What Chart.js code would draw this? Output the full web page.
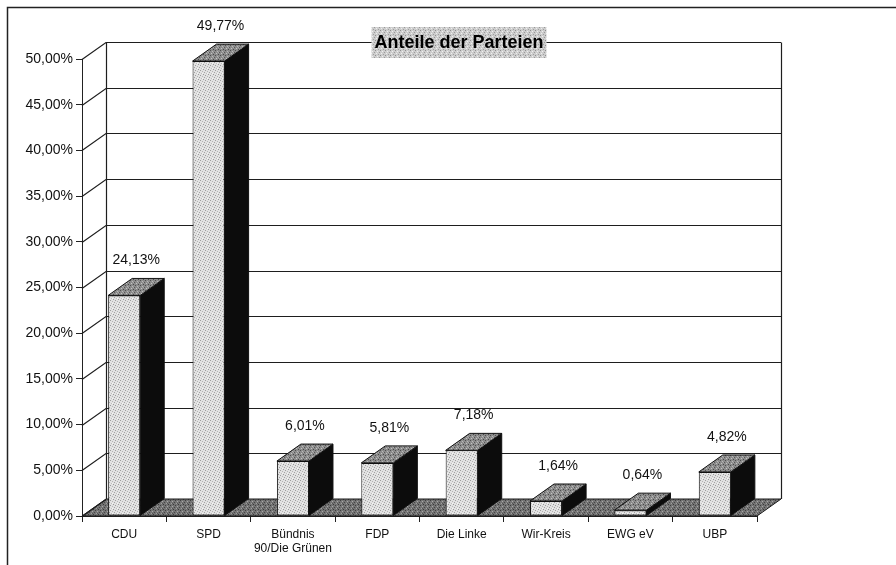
<!DOCTYPE html>
<html><head><meta charset="utf-8">
<script src="https://cdn.jsdelivr.net/npm/chart.js@4"></script>
<style>html,body{margin:0;padding:0;background:#fff}#wrap{width:896px;height:565px;position:relative}</style>
</head><body><div id="wrap"><canvas id="c" width="896" height="565"></canvas></div>
<script>
const categories = [["CDU"],["SPD"],["Bündnis","90/Die Grünen"],["FDP"],["Die Linke"],["Wir-Kreis"],["EWG eV"],["UBP"]];
const shares = [24.13, 49.77, 6.01, 5.81, 7.18, 1.64, 0.64, 4.82];
const yMin = 0, yMax = 50, yStep = 5;
const chartTitle = "Anteile der Parteien";

const DX = 24, DY = -17;
const FONT = "'Liberation Sans', Arial, sans-serif";
const fmt = v => v.toFixed(2).replace('.', ',') + '%';

function makePattern(base, specks) {
  const c = document.createElement('canvas');
  c.width = 5; c.height = 5;
  const g = c.getContext('2d');
  g.fillStyle = base; g.fillRect(0, 0, 5, 5);
  specks.forEach(([x, y, col]) => { g.fillStyle = col; g.fillRect(x, y, 1, 1); });
  return g.createPattern(c, 'repeat');
}
const frontPat = makePattern('#e2e2e2', [[0,0,'#9c9c9c'],[2,1,'#b5b5b5'],[4,2,'#a0a0a0'],[1,3,'#bdbdbd'],[3,4,'#999'],[2,3,'#f5f5f5']]);
const topPat = makePattern('#8c8c8c', [[0,0,'#4e4e4e'],[2,1,'#b9b9b9'],[4,2,'#555'],[1,3,'#c2c2c2'],[3,4,'#4a4a4a'],[3,2,'#aaa']]);
const floorPat = makePattern('#747474', [[0,0,'#3e3e3e'],[2,1,'#a8a8a8'],[4,2,'#444'],[1,3,'#9f9f9f'],[3,4,'#3a3a3a'],[2,3,'#555']]);
const titlePat = makePattern('#cdcdcd', [[0,0,'#8e8e8e'],[2,1,'#f0f0f0'],[4,2,'#999'],[1,3,'#eee'],[3,4,'#a0a0a0']]);

const deco = {
  id: 'deco',
  beforeDraw(chart) {
    const ctx = chart.ctx;
    ctx.save();
    ctx.fillStyle = '#fff';
    ctx.fillRect(0, 0, chart.width, chart.height);
    ctx.strokeStyle = '#222'; ctx.lineWidth = 1.5;
    ctx.beginPath();
    ctx.moveTo(7.5, chart.height); ctx.lineTo(7.5, 7.5); ctx.lineTo(chart.width, 7.5);
    ctx.stroke();
    ctx.restore();
  },
  beforeDatasetsDraw(chart) {
    const ctx = chart.ctx, a = chart.chartArea, ys = chart.scales.y;
    ctx.save();
    const b = a.bottom;
    ctx.fillStyle = floorPat;
    ctx.beginPath();
    ctx.moveTo(a.left, b); ctx.lineTo(a.right, b); ctx.lineTo(a.right + DX, b + DY); ctx.lineTo(a.left + DX, b + DY); ctx.closePath();
    ctx.fill();
    ctx.strokeStyle = '#1a1a1a'; ctx.lineWidth = 1;
    ctx.stroke();
    ctx.strokeStyle = '#1e1e1e'; ctx.lineWidth = 1.2;
    for (let v = yMin; v <= yMax + 1e-9; v += yStep) {
      const y = Math.round(ys.getPixelForValue(v)) + 0.5;
      ctx.beginPath();
      ctx.moveTo(a.left, y); ctx.lineTo(a.left + DX, y + DY);
      if (v > yMin) ctx.lineTo(a.right + DX, y + DY);
      ctx.stroke();
    }
    ctx.beginPath();
    const yt = Math.round(ys.getPixelForValue(yMax)) + 0.5 + DY;
    ctx.moveTo(a.left + DX + 0.5, yt); ctx.lineTo(a.left + DX + 0.5, b + DY);
    ctx.moveTo(a.right + DX + 0.5, yt); ctx.lineTo(a.right + DX + 0.5, b + DY);
    ctx.stroke();
    ctx.restore();
  },
  afterDatasetsDraw(chart) {
    const ctx = chart.ctx;
    const meta = chart.getDatasetMeta(0);
    ctx.save();
    ctx.strokeStyle = '#111'; ctx.lineWidth = 1;
    meta.data.forEach((el, i) => {
      const p = el.getProps(['x', 'y', 'width', 'base'], true);
      const l = p.x - p.width / 2, r = p.x + p.width / 2, t = p.y, bs = p.base;
      ctx.fillStyle = '#0c0c0c';
      ctx.beginPath();
      ctx.moveTo(r, t); ctx.lineTo(r + DX, t + DY); ctx.lineTo(r + DX, bs + DY); ctx.lineTo(r, bs); ctx.closePath();
      ctx.fill(); ctx.stroke();
      ctx.fillStyle = topPat;
      ctx.beginPath();
      ctx.moveTo(l, t); ctx.lineTo(r, t); ctx.lineTo(r + DX, t + DY); ctx.lineTo(l + DX, t + DY); ctx.closePath();
      ctx.fill(); ctx.stroke();
      ctx.fillStyle = '#111';
      ctx.font = '14px ' + FONT;
      ctx.textAlign = 'center'; ctx.textBaseline = 'middle';
      ctx.fillText(fmt(shares[i]), p.x + 12, t + DY - 18);
    });
    ctx.restore();
  },
  afterDraw(chart) {
    const ctx = chart.ctx;
    ctx.save();
    ctx.font = 'bold 18px ' + FONT;
    const w = ctx.measureText(chartTitle).width;
    const cx = 459, cy = 42;
    ctx.fillStyle = titlePat;
    ctx.fillRect(cx - w / 2 - 3, 27, w + 6, 31);
    ctx.fillStyle = '#000';
    ctx.textAlign = 'center'; ctx.textBaseline = 'middle';
    ctx.fillText(chartTitle, cx, cy + 1);
    ctx.restore();
  }
};

new Chart(document.getElementById('c'), {
  type: 'bar',
  data: {
    labels: categories,
    datasets: [{
      data: shares,
      backgroundColor: frontPat,
      borderColor: '#111',
      borderWidth: 1,
      borderSkipped: false,
      categoryPercentage: 1,
      barPercentage: 0.38
    }]
  },
  options: {
    responsive: false,
    devicePixelRatio: 1,
    animation: false,
    layout: { padding: { top: 59, right: 139, left: 0, bottom: 0 } },
    plugins: { legend: { display: false }, tooltip: { enabled: false }, title: { display: false } },
    scales: {
      y: {
        min: yMin, max: yMax,
        afterFit: s => { s.width = 82; },
        ticks: { stepSize: yStep, callback: v => fmt(v), color: '#111', font: { family: FONT, size: 14 }, padding: 3 },
        grid: { drawOnChartArea: false, tickLength: 6, color: '#222' },
        border: { display: true, color: '#222', width: 1 }
      },
      x: {
        afterFit: s => { s.height = 49; },
        ticks: { color: '#111', font: { family: FONT, size: 12 }, padding: 5, maxRotation: 0, autoSkip: false },
        grid: { drawOnChartArea: false, offset: true, tickLength: 6, color: '#222' },
        border: { display: true, color: '#222', width: 1 }
      }
    }
  },
  plugins: [deco]
});
</script>
</body></html>
